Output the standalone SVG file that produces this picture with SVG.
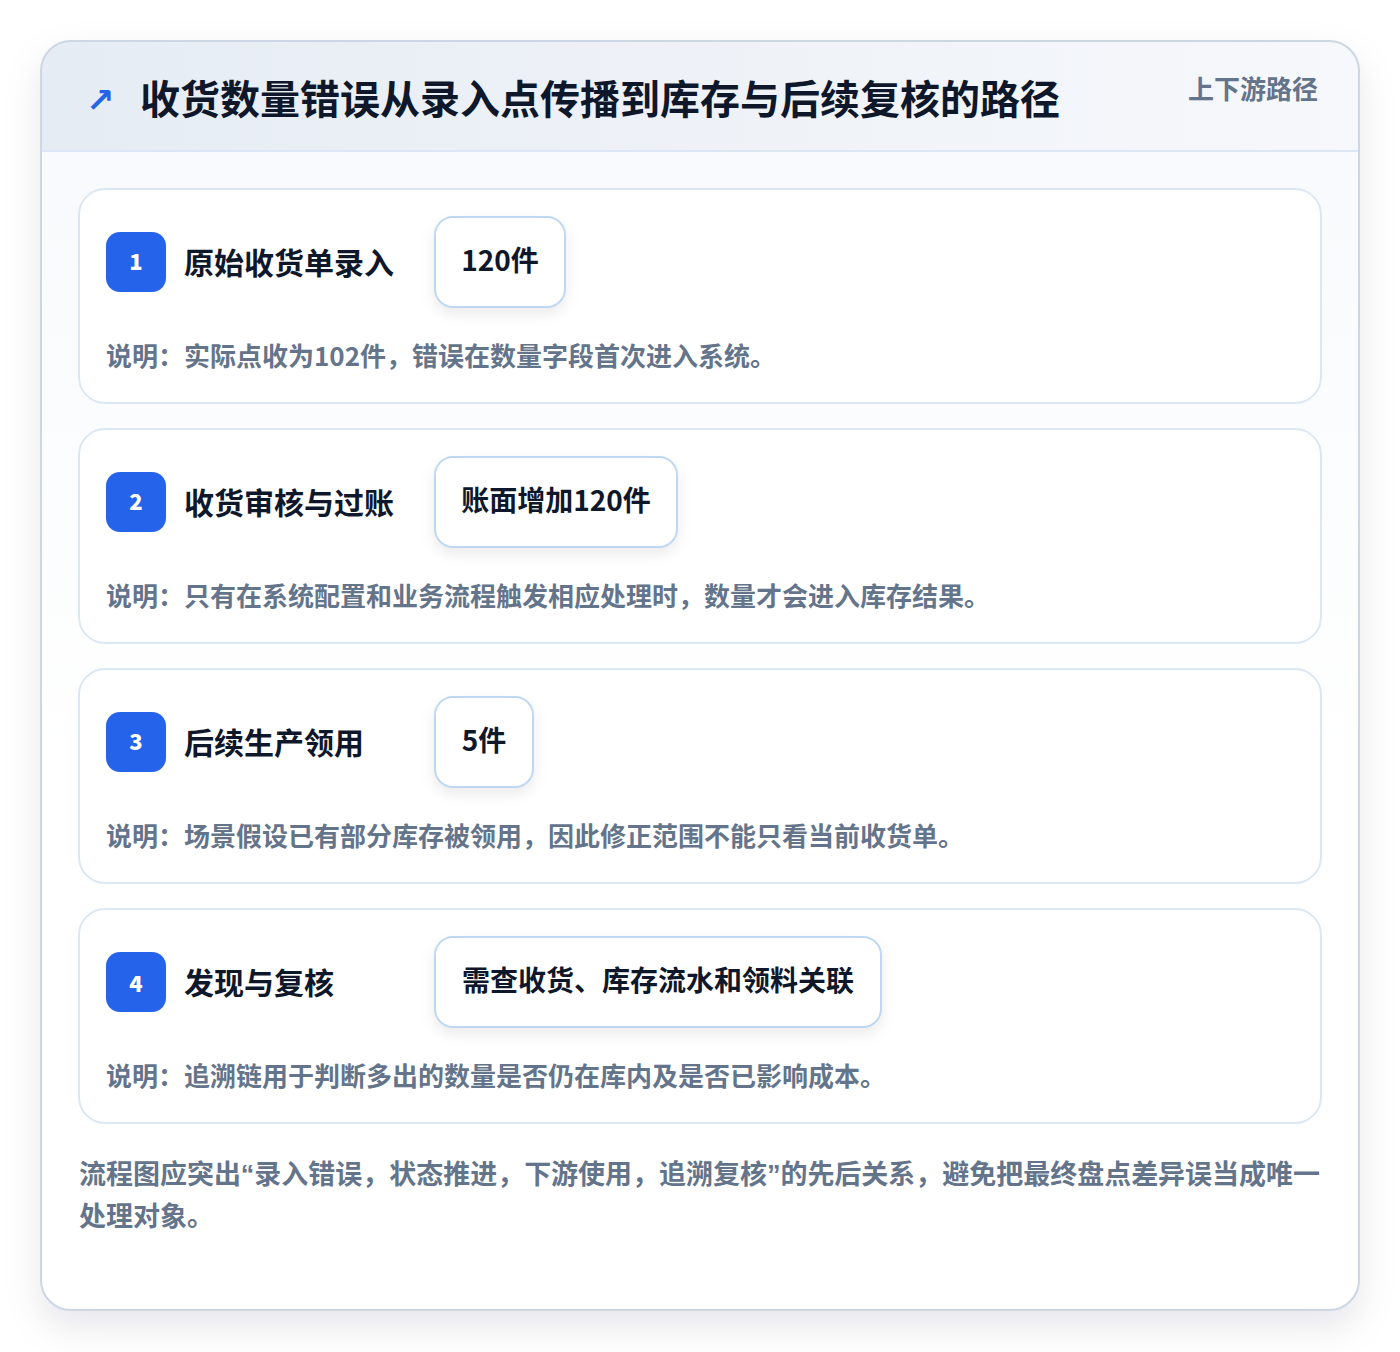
<svg xmlns="http://www.w3.org/2000/svg" width="1400" height="1352" viewBox="0 0 1400 1352">
<defs>
<filter id="sh" x="-10%" y="-10%" width="120%" height="125%"><feDropShadow dx="0" dy="16" stdDeviation="18" flood-color="#0f172a" flood-opacity="0.10"/></filter>
<filter id="psh" x="-20%" y="-20%" width="140%" height="160%"><feDropShadow dx="0" dy="6" stdDeviation="7" flood-color="#0f172a" flood-opacity="0.08"/></filter>
<linearGradient id="hdr" x1="0" y1="0" x2="1" y2="0"><stop offset="0" stop-color="#e6ecf4"/><stop offset="1" stop-color="#f6f8fb"/></linearGradient>
<linearGradient id="body" x1="0" y1="0" x2="0" y2="1"><stop offset="0" stop-color="#f7f9fc"/><stop offset="0.6" stop-color="#ffffff"/><stop offset="1" stop-color="#ffffff"/></linearGradient>
<clipPath id="outerClip"><rect x="41" y="41" width="1318" height="1269" rx="30"/></clipPath>
</defs>
<style>
text{font-family:"Noto Sans CJK SC","Noto Sans",sans-serif;font-weight:700}
.card{fill:#ffffff;stroke:#dbe7f5;stroke-width:2}
.badge{fill:#2563eb}
.bnum{fill:#ffffff;font-size:22px;text-anchor:middle;font-weight:900}
.lbl{fill:#0f172a;font-size:30px}
.pill{fill:#ffffff;stroke:#bfd7f2;stroke-width:2}
.pv{fill:#0f172a;font-size:28px}
.desc{fill:#64748b;font-size:26px}
.foot{fill:#64748b;font-size:27px}
.q{font-family:"Liberation Sans",sans-serif}
</style>
<rect width="1400" height="1352" fill="#ffffff"/>
<g id="frame">
<rect x="41" y="41" width="1318" height="1269" rx="30" fill="url(#body)" filter="url(#sh)"/>
<g clip-path="url(#outerClip)">
<rect x="41" y="41" width="1318" height="110" fill="url(#hdr)"/>
<line x1="41" y1="151" x2="1359" y2="151" stroke="#dbe7f5" stroke-width="2"/>
</g>
<rect x="41" y="41" width="1318" height="1269" rx="30" fill="none" stroke="#cdd6e3" stroke-width="2"/>
</g>
<g id="header">
<text x="86" y="112" font-size="34" fill="#2563eb" style="font-family:'DejaVu Sans',sans-serif">↗</text>
<text x="140" y="114" font-size="40" fill="#0f172a">收货数量错误从录入点传播到库存与后续复核的路径</text>
<text x="1318" y="99" font-size="26" fill="#64748b" text-anchor="end">上下游路径</text>
</g>
<g id="step1">
<rect class="card" x="79" y="189" width="1242" height="214" rx="26"/>
<rect class="badge" x="106" y="232" width="60" height="60" rx="14"/>
<text class="bnum" x="136" y="270">1</text>
<text class="lbl" x="184" y="274">原始收货单录入</text>
<rect class="pill" x="435" y="217" width="130" height="90" rx="18" filter="url(#psh)"/>
<text class="pv" x="500" y="271" text-anchor="middle">120件</text>
<text class="desc" x="106" y="366">说明：实际点收为102件，错误在数量字段首次进入系统。</text>
</g>
<g id="step2">
<rect class="card" x="79" y="429" width="1242" height="214" rx="26"/>
<rect class="badge" x="106" y="472" width="60" height="60" rx="14"/>
<text class="bnum" x="136" y="510">2</text>
<text class="lbl" x="184" y="514">收货审核与过账</text>
<rect class="pill" x="435" y="457" width="242" height="90" rx="18" filter="url(#psh)"/>
<text class="pv" x="556" y="511" text-anchor="middle">账面增加120件</text>
<text class="desc" x="106" y="606">说明：只有在系统配置和业务流程触发相应处理时，数量才会进入库存结果。</text>
</g>
<g id="step3">
<rect class="card" x="79" y="669" width="1242" height="214" rx="26"/>
<rect class="badge" x="106" y="712" width="60" height="60" rx="14"/>
<text class="bnum" x="136" y="750">3</text>
<text class="lbl" x="184" y="754">后续生产领用</text>
<rect class="pill" x="435" y="697" width="98" height="90" rx="18" filter="url(#psh)"/>
<text class="pv" x="484" y="751" text-anchor="middle">5件</text>
<text class="desc" x="106" y="846">说明：场景假设已有部分库存被领用，因此修正范围不能只看当前收货单。</text>
</g>
<g id="step4">
<rect class="card" x="79" y="909" width="1242" height="214" rx="26"/>
<rect class="badge" x="106" y="952" width="60" height="60" rx="14"/>
<text class="bnum" x="136" y="992">4</text>
<text class="lbl" x="184" y="994">发现与复核</text>
<rect class="pill" x="435" y="937" width="446" height="90" rx="18" filter="url(#psh)"/>
<text class="pv" x="658" y="991" text-anchor="middle">需查收货、库存流水和领料关联</text>
<text class="desc" x="106" y="1086">说明：追溯链用于判断多出的数量是否仍在库内及是否已影响成本。</text>
</g>
<g id="connectors"></g>
<g id="footer">
<text class="foot" x="79" y="1184" textLength="1241" lengthAdjust="spacing">流程图应突出<tspan class="q">“</tspan>录入错误，状态推进，下游使用，追溯复核<tspan class="q">”</tspan>的先后关系，避免把最终盘点差异误当成唯一</text>
<text class="foot" x="79" y="1226">处理对象。</text>
</g>
</svg>
